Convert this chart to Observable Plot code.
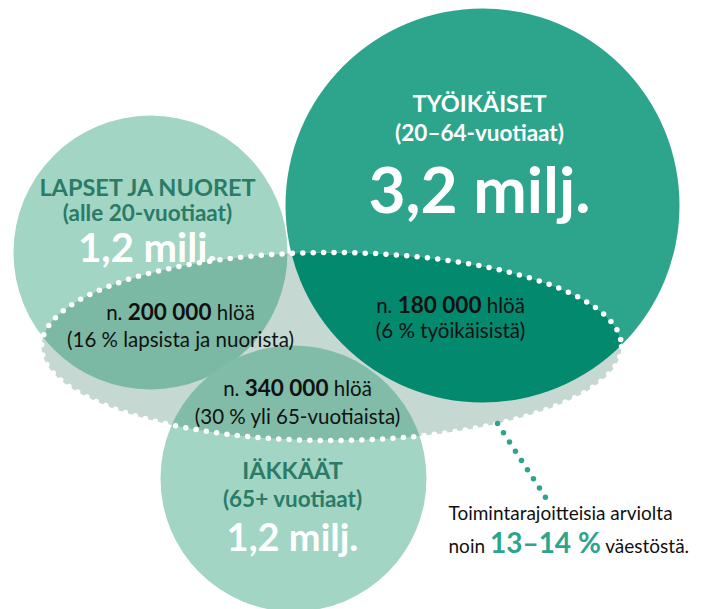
<!DOCTYPE html>
<html><head><meta charset="utf-8">
<script src="https://cdn.jsdelivr.net/npm/d3@7"></script>
<script src="https://cdn.jsdelivr.net/npm/@observablehq/plot@0.6"></script>
<style>
html,body{margin:0;padding:0;background:#fff;}
#chart svg{display:block;font-family:Lato,"Open Sans",sans-serif;}
</style></head><body><div id="chart"></div>
<script>
// ---- data ----
const groups = ["LAPSET JA NUORET", "TYÖIKÄISET", "IÄKKÄÄT"];
const ageRanges = ["(alle 20-vuotiaat)", "(20–64-vuotiaat)", "(65+ vuotiaat)"];
const populationMillions = [1.2, 3.2, 1.2];
const limitedPersons = [200000, 180000, 340000];
const limitedShares = [16, 6, 30];
const shareOf = ["lapsista ja nuorista", "työikäisistä", "yli 65-vuotiaista"];
const totalShare = "13–14 %";
const noteLine1 = "Toimintarajoitteisia arviolta";
const noteLine2 = ["noin ", totalShare, " väestöstä."];

// ---- layout (positions / styles) ----
const layout = [
  {cx:150, cy:252, r:137, fill:"#a3d5c4", inner:"#7cb9a4", title:"#2a7b67", valueSize:40,
   ty:188, ay:213, vy:249, vx:147, lx:180, l1:313, l2:340},
  {cx:482, cy:205, r:197, fill:"#2da58c", inner:"#03896d", title:"#ffffff", valueSize:64,
   ty:104, ay:133, vy:192, vx:479, lx:450, l1:306, l2:331},
  {cx:293, cy:478, r:133, fill:"#a3d5c4", inner:"#80bca8", title:"#2a7b67", valueSize:38,
   ty:471, ay:499, vy:538, vx:292, lx:297, l1:389, l2:417}
];
const lens = {cx:331, cy:346, rx:290, ry:94};
const leader = [[497, 423], [547, 500]];
const note = {x:448, y1:513, y2:546};

const fi = d3.formatLocale({decimal:",", thousands:"\u00a0", grouping:[3], currency:["","€"]});
const fmtMil = d => fi.format(".1f")(d) + " milj.";
const fmtN = fi.format(",d");

const rows = groups.map((g, i) => ({
  group: g, age: ageRanges[i], value: fmtMil(populationMillions[i]),
  line1: "n. " + fmtN(limitedPersons[i]) + " hlöä",
  line2: "(" + limitedShares[i] + " % " + shareOf[i] + ")",
  ...layout[i]
}));

const lensPts = d3.range(0, 360, 2).map(a => {
  const t = a * Math.PI / 180;
  return {x: lens.cx + lens.rx * Math.cos(t), y: lens.cy + lens.ry * Math.sin(t)};
});

const W = 705, H = 609;
const svg = Plot.plot({
  width: W, height: H, margin: 0,
  x: {domain:[0, W], range:[0, W], axis:null},
  y: {domain:[0, H], range:[0, H], axis:null},
  r: {type:"identity"},
  marks: [
    Plot.dot(rows, {x:"cx", y:"cy", r:"r", fill:d => d.fill, stroke:null}),
    Plot.text(rows, {x:"vx", y:"ty", text:"group", fill:d => d.title, fontSize:23.5, fontWeight:"bold"}),
    Plot.text(rows, {x:"vx", y:"ay", text:"age", fill:d => d.title, fontSize:22.5, fontWeight:"bold"}),
    Plot.text(rows, {x:"vx", y:"vy", text:"value", fill:"white", fontSize:d => d.valueSize, fontWeight:"bold"}),
    Plot.line(lensPts, {x:"x", y:"y", curve:"linear-closed", fill:"#c5d8d2", stroke:"none", className:"lens"}),
    Plot.dot(rows, {x:"cx", y:"cy", r:"r", fill:d => d.inner, stroke:null, className:"inner"}),
    Plot.line(lensPts, {x:"x", y:"y", curve:"linear-closed", fill:"none", stroke:"white", strokeWidth:5.5,
      strokeDasharray:"0 10.4", strokeLinecap:"round"}),
    Plot.text(rows, {x:"lx", y:"l1", text:"line1", fill:"#111", fontSize:20.5, className:"mixed"}),
    Plot.text(rows, {x:"lx", y:"l2", text:"line2", fill:"#111", fontSize:20.5}),
    Plot.line(leader, {x:d => d[0], y:d => d[1], stroke:"#2da58c", strokeWidth:5.5,
      strokeDasharray:"0 11", strokeLinecap:"round"}),
    Plot.text([noteLine1], {x:note.x, y:note.y1, text:d => d, textAnchor:"start", fill:"#111", fontSize:19}),
    Plot.text([noteLine2.join("")], {x:note.x, y:note.y2, text:d => d, textAnchor:"start", fill:"#111", fontSize:19, className:"note"})
  ]
});

// clip the inner (darker) circles to the lens shape
const ns = "http://www.w3.org/2000/svg";
const lensPath = svg.querySelector("g.lens path");
const defs = document.createElementNS(ns, "defs");
const cp = document.createElementNS(ns, "clipPath");
cp.setAttribute("id", "lensclip");
const p = lensPath.cloneNode();
p.removeAttribute("fill"); p.removeAttribute("stroke");
cp.appendChild(p); defs.appendChild(cp); svg.insertBefore(defs, svg.firstChild);
svg.querySelector("g.inner").setAttribute("clip-path", "url(#lensclip)");

// bold numbers inside mixed lines
function styleParts(text, re, styler) {
  const m = text.textContent.match(re);
  if (!m) return;
  text.textContent = "";
  m.slice(1).forEach((s, k) => {
    const t = document.createElementNS(ns, "tspan");
    t.textContent = s;
    if (k === 1) styler(t);
    text.appendChild(t);
  });
}
svg.querySelectorAll("g.mixed text").forEach(t =>
  styleParts(t, /^(n\.\s)(.+?)(\shlöä)$/, s => { s.setAttribute("font-weight", "bold"); s.setAttribute("font-size", "22.5"); }));
svg.querySelectorAll("g.note text").forEach(t =>
  styleParts(t, /^(noin\s)(.+?%)(\s.+)$/, s => { s.setAttribute("font-weight", "bold"); s.setAttribute("font-size", "28"); s.setAttribute("fill", "#2da58c"); }));

document.getElementById("chart").appendChild(svg);
</script></body></html>
